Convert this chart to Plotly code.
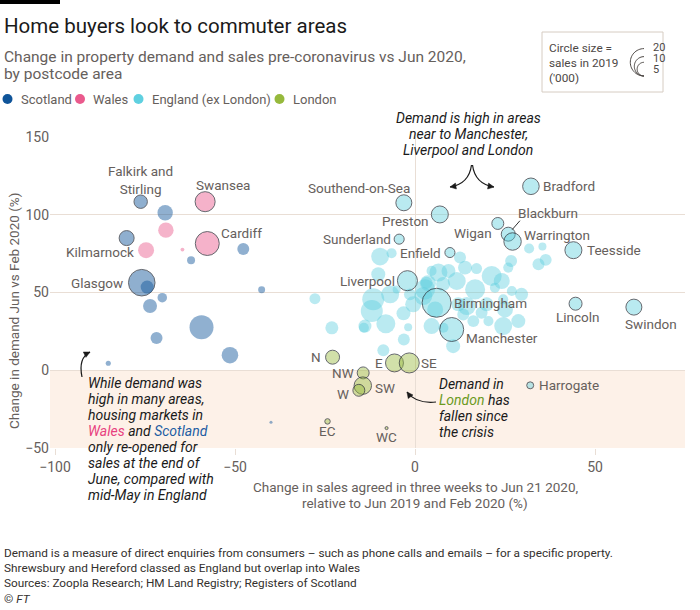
import math
import plotly.graph_objects as go

# ---------------- DATA ----------------
# x = change in sales agreed (%), y = change in demand (%), s = sales in 2019 ('000)
scot_names = ["Falkirk and Stirling", "", "Kilmarnock", "", "", "Glasgow", "", "", "", "",
              "", "", "", "", ""]
scot_x = [-76.2, -69.4, -80.1, -62.2, -47.7, -75.9, -74.4, -70.2, -73.6, -42.6,
          -59.3, -71.8, -51.4, -85.2, -40.0]
scot_y = [108.4, 101.3, 85.0, 70.8, 78.0, 56.3, 53.5, 46.7, 41.3, 51.8,
          27.7, 20.8, 9.7, 4.5, -33.4]
scot_s = [4.8, 6.3, 6.0, 1.7, 3.8, 18.8, 4.5, 2.4, 5.2, 1.3,
          15.3, 3.8, 7.3, 0.7, 0.25]

wales_names = ["Swansea", "", "", "", "Cardiff"]
wales_x = [-58.3, -69.2, -74.7, -64.6, -57.7]
wales_y = [108.4, 90.1, 77.2, 77.6, 81.5]
wales_s = [10.7, 6.3, 6.8, 0.4, 15.3]

eng_names = ["Southend-on-Sea", "Preston", "Sunderland", "Enfield", "Liverpool", "Birmingham",
             "Manchester", "Bradford", "Wigan", "Blackburn", "Warrington", "Teesside",
             "Lincoln", "Swindon", "Harrogate"]
eng_x = [-3.1, 6.9, -4.4, 9.7, -2.1, 6.0, 10.2, 32.2, 23.0, 25.9, 27.1, 44.0, 44.6, 60.8, 32.0]
eng_y = [107.7, 100.2, 84.3, 75.7, 57.6, 43.4, 26.2, 118.3, 94.4, 87.5, 82.8, 77.2, 42.8, 40.6, -9.7]
eng_s = [6.8, 7.7, 2.7, 2.7, 10.7, 22.4, 15.3, 7.3, 3.8, 5.2, 8.1, 7.7, 4.5, 6.8, 1.3]

eng_other_x = [-9.7, -6.5, -10.2, -27.8, -11.6, -6.9, -12.0, -8.1, -13.9, -23.1,
               -1.9, -3.1, -8.8, -3.2, -0.5, -1.4, 2.3, 3.2, -5.1, -14.2,
               10.6, 31.7, 35.4, 36.3, 34.3, 26.7, 25.9, 12.5, 13.9, 17.1,
               9.3, 4.6, 21.3, 24.1, 11.6, 16.7, 26.9, 29.6, 22.2, 14.4,
               19.9, 25.0, 28.7, 24.5, 16.2, 13.4, 4.6, 5.6, 2.8, 6.5,
               3.6, 7.8, 7.9, 12.0, 18.5, 24.5, 20.4]
eng_other_y = [73.1, 75.3, 61.7, 46.0, 45.6, 48.8, 38.1, 29.9, 28.4, 27.3,
               27.7, 19.8, 12.9, 36.6, 42.4, 48.8, 47.7, 56.3, 52.0, 27.3,
               15.5, 78.3, 79.6, 71.0, 68.2, 70.3, 66.0, 72.5, 66.0, 65.4,
               63.9, 63.9, 60.6, 57.4, 57.4, 52.0, 51.0, 48.8, 53.1, 41.3,
               42.4, 39.1, 31.6, 28.4, 31.6, 35.9, 28.4, 39.1, 52.0, 62.8,
               56.0, 55.5, 27.3, 42.4, 37.0, 45.6, 31.6]
eng_other_s = [8.4, 2.7, 5.2, 3.2, 12.9, 8.6, 12.9, 9.6, 4.5, 4.5,
               1.7, 3.8, 3.8, 5.2, 6.8, 3.8, 8.6, 3.8, 1.7, 2.7,
               5.2, 2.7, 1.7, 3.8, 3.8, 3.8, 2.7, 3.8, 5.2, 3.2,
               5.2, 2.7, 10.7, 6.8, 8.6, 10.7, 2.7, 4.5, 2.7, 8.6,
               5.2, 6.8, 5.2, 8.6, 3.8, 3.8, 6.8, 6.8, 10.7, 8.6,
               6.8, 5.2, 2.7, 5.2, 3.8, 2.7, 2.7]

ldn_names = ["N", "E", "SE", "NW", "SW", "W", "EC", "WC"]
ldn_x = [-22.9, -5.7, -1.6, -14.4, -14.5, -15.6, -24.3, -7.9]
ldn_y = [8.4, 4.7, 4.7, -1.7, -9.9, -12.9, -32.9, -37.2]
ldn_s = [5.2, 8.6, 10.7, 3.8, 8.1, 3.8, 0.8, 0.25]

legend_labels = ["Scotland", "Wales", "England (ex London)", "London"]
size_legend_values = [20, 10, 5]
x_ticks = [-100, -50, 0, 50]
y_ticks = [-50, 0, 50, 100, 150]

# ---------------- STYLE ----------------
W, H = 700, 610
ML, MR, MT, MB = 50, 15, 137, 162
PW, PH = W - ML - MR, H - MT - MB
FONT = "Roboto"
GREY = "#66605c"
DARK = "#1a1a1a"
GRID = "#e9ded5"
OUTLINE = "#262a33"
SIZE_MAX_PX = 27.4
SIZEREF = 2 * 20 / SIZE_MAX_PX ** 2

COL = {
    "Scotland": ("#0f5499", "rgba(15,84,153,0.66)"),
    "Wales": ("#ea5a8d", "rgba(234,90,141,0.66)"),
    "England (ex London)": ("#5fd0e0", "rgba(90,206,222,0.6)"),
    "London": ("#96b93c", "rgba(150,185,60,0.62)"),
}

# label placement (pixel offsets relative to the point, anchor)
LABEL_POS = {
    "Falkirk and Stirling": (0, 22, "center", "Falkirk and<br>Stirling"),
    "Swansea": (18, 17, "center", None),
    "Cardiff": (12, 11, "left", None),
    "Kilmarnock": (9, -14, "right", None),
    "Glasgow": (-17, 0, "right", None),
    "Southend-on-Sea": (8, 15, "right", None),
    "Preston": (-9, -7, "right", None),
    "Sunderland": (-6, 0, "right", None),
    "Enfield": (-7, 0, "right", None),
    "Liverpool": (-10, 0, "right", None),
    "Birmingham": (15, 0, "left", None),
    "Manchester": (12, -8, "left", None),
    "Bradford": (10, 0, "left", None),
    "Wigan": (-4, -10, "right", None),
    "Blackburn": (8, 21, "left", None),
    "Warrington": (9, 7, "left", None),
    "Teesside": (12, 0, "left", None),
    "Lincoln": (2, -13, "center", None),
    "Swindon": (17, -17, "center", None),
    "Harrogate": (7, 0, "left", None),
    "N": (-10, 0, "right", None),
    "E": (-9, 0, "right", None),
    "SE": (10, 0, "left", None),
    "NW": (-7, 0, "right", None),
    "SW": (10, -2, "left", None),
    "W": (-8, -4, "right", None),
    "EC": (0, -10, "center", None),
    "WC": (0, -9, "center", None),
}


def pp(x, y):
    """pixel (from top-left of page) -> paper coords"""
    return (x - ML) / PW, (H - MB - y) / PH


fig = go.Figure()


def add_group(names, xs, ys, ss, fill):
    fig.add_trace(go.Scatter(
        x=xs, y=ys, mode="markers", hoverinfo="skip", showlegend=False,
        marker=dict(size=ss, sizemode="area", sizeref=SIZEREF, sizemin=1.5, color=fill,
                    line=dict(color=OUTLINE, width=[1 if n else 0 for n in names]))))


add_group(scot_names, scot_x, scot_y, scot_s, COL["Scotland"][1])
add_group(wales_names, wales_x, wales_y, wales_s, COL["Wales"][1])
add_group([""] * len(eng_other_x), eng_other_x, eng_other_y, eng_other_s, COL["England (ex London)"][1])
add_group(eng_names, eng_x, eng_y, eng_s, COL["England (ex London)"][1])
add_group(ldn_names, ldn_x, ldn_y, ldn_s, COL["London"][1])

annotations = []
shapes = []

# point labels
for names, xs, ys in [(scot_names, scot_x, scot_y), (wales_names, wales_x, wales_y),
                      (eng_names, eng_x, eng_y), (ldn_names, ldn_x, ldn_y)]:
    for n, x, y in zip(names, xs, ys):
        if not n:
            continue
        dx, dy, anc, txt = LABEL_POS[n]
        annotations.append(dict(x=x, y=y, xref="x", yref="y", text=txt or n, showarrow=False,
                                xshift=dx, yshift=dy, xanchor=anc, yanchor="middle",
                                font=dict(family=FONT, size=13.5, color=GREY)))
        if n == "Blackburn":
            annotations.append(dict(x=x, y=y, xref="x", yref="y", text="", showarrow=True,
                                    ax=13, ay=-15, arrowhead=0, arrowwidth=1, arrowcolor="#333",
                                    standoff=6))

# shaded negative area
shapes.append(dict(type="rect", xref="paper", x0=0, x1=1, yref="y", y0=-50, y1=0,
                   fillcolor="#fdf1e8", line=dict(width=0), layer="below"))

# top black bar
b0 = pp(0, 0); b1 = pp(60, 4)
shapes.append(dict(type="rect", xref="paper", yref="paper", x0=b0[0], y0=b0[1], x1=b1[0], y1=b1[1],
                   fillcolor="black", line=dict(width=0)))


def text_px(x, y, text, size, color, anchor="left", family=FONT, angle=0):
    px_, py_ = pp(x, y)
    annotations.append(dict(x=px_, y=py_, xref="paper", yref="paper", text=text, showarrow=False,
                            xanchor=anchor, yanchor="middle", textangle=angle,
                            font=dict(family=family, size=size, color=color)))


# title and subtitle
text_px(2, 26, "Home buyers look to commuter areas", 20.5, DARK)
text_px(2, 57, "Change in property demand and sales pre-coronavirus vs Jun 2020,", 15.5, GREY)
text_px(2, 74, "by postcode area", 15.5, GREY)

# colour legend
leg_dot_x = [7.5, 80, 138.5, 279.5]
for lab, dxp in zip(legend_labels, leg_dot_x):
    c0 = pp(dxp - 5, 94); c1 = pp(dxp + 5, 104)
    shapes.append(dict(type="circle", xref="paper", yref="paper", x0=c0[0], y0=c1[1], x1=c1[0], y1=c0[1],
                       fillcolor=COL[lab][0], line=dict(width=0)))
    text_px(dxp + 11, 99, lab, 13, GREY)

# size legend box
r0 = pp(542, 32); r1 = pp(663, 92)
shapes.append(dict(type="rect", xref="paper", yref="paper", x0=r0[0], y0=r1[1], x1=r1[0], y1=r0[1],
                   fillcolor="white", line=dict(color="#d6ccc2", width=1)))
for i, t in enumerate(["Circle size =", "sales in 2019", "('000)"]):
    text_px(547, 48 + i * 15, t, 11.8, "#4d4845")
arc_cx, arc_bottom = 644, 76
label_ys = [47.5, 58.5, 69.5]
for v, ly in zip(size_legend_values, label_ys):
    r = math.sqrt(v / (2 * SIZEREF))
    cy = arc_bottom - r
    pts = []
    for k in range(0, 31):
        a = math.pi / 2 + math.pi * k / 30
        pts.append(pp(arc_cx + r * math.cos(a), cy - r * math.sin(a)))
    path = "M" + " L".join(f"{p[0]:.5f},{p[1]:.5f}" for p in pts)
    shapes.append(dict(type="path", xref="paper", yref="paper", path=path,
                       line=dict(color="#4d4845", width=1)))
    text_px(651, ly, str(v), 11, "#4d4845")


# curved arrows
def curve_arrow(p0, c, p1):
    a = pp(*p0); b = pp(*c); e = pp(*p1)
    shapes.append(dict(type="path", xref="paper", yref="paper",
                       path=f"M{a[0]:.5f},{a[1]:.5f} Q{b[0]:.5f},{b[1]:.5f} {e[0]:.5f},{e[1]:.5f}",
                       line=dict(color=DARK, width=1.2)))
    ux, uy = p1[0] - c[0], p1[1] - c[1]
    ln = math.hypot(ux, uy)
    ux, uy = ux / ln, uy / ln
    nx, ny = -uy, ux
    bx, by = p1[0] - 6 * ux, p1[1] - 6 * uy
    q1 = pp(bx + 3 * nx, by + 3 * ny); q2 = pp(bx - 3 * nx, by - 3 * ny)
    shapes.append(dict(type="path", xref="paper", yref="paper",
                       path=f"M{e[0]:.5f},{e[1]:.5f} L{q1[0]:.5f},{q1[1]:.5f} L{q2[0]:.5f},{q2[1]:.5f} Z",
                       fillcolor=DARK, line=dict(color=DARK, width=0.5)))


curve_arrow((471.5, 165), (469, 184), (450, 187))
curve_arrow((472.5, 165), (475, 184), (494, 187))
curve_arrow((82, 377), (78, 358), (90, 352))
curve_arrow((436, 402), (416, 404), (407, 392))

# annotation texts
for i, t in enumerate(["Demand is high in areas", "near to Manchester,", "Liverpool and London"]):
    text_px(468, 118 + i * 16, f"<i>{t}</i>", 14, DARK, anchor="center")

left_lines = ["While demand was", "high in many areas,", "housing markets in",
              "<span style='color:#e8417f'>Wales</span> and <span style='color:#1d5da3'>Scotland</span>",
              "only re-opened for", "sales at the end of", "June, compared with", "mid-May in England"]
for i, t in enumerate(left_lines):
    text_px(86, 383 + i * 16, f"<i>{t}</i>", 14, DARK)

right_lines = ["Demand in", "<span style='color:#6b9a1e'>London</span> has", "fallen since", "the crisis"]
for i, t in enumerate(right_lines):
    text_px(437, 384 + i * 16, f"<i>{t}</i>", 14, DARK)

# axis titles
text_px(415, 487, "Change in sales agreed in three weeks to Jun 21 2020,", 13.5, GREY, anchor="center")
text_px(415, 503, "relative to Jun 2019 and Feb 2020 (%)", 13.5, GREY, anchor="center")
text_px(14, 311, "Change in demand Jun vs Feb 2020 (%)", 13.5, GREY, anchor="center", angle=-90)

# footer
footer = ["Demand is a measure of direct enquiries from consumers – such as phone calls and emails – for a specific property.",
          "Shrewsbury and Hereford classed as England but overlap into Wales",
          "Sources: Zoopla Research; HM Land Registry; Registers of Scotland",
          "© <i>FT</i>"]
for i, t in enumerate(footer):
    text_px(2, 553 + i * 15.2, t, 11.8, "#33302e")

fig.update_layout(
    width=W, height=H, margin=dict(l=ML, r=MR, t=MT, b=MB, autoexpand=False),
    paper_bgcolor="white", plot_bgcolor="rgba(0,0,0,0)", showlegend=False,
    font=dict(family=FONT, color=GREY), annotations=annotations, shapes=shapes,
    xaxis=dict(range=[-101.39, 75], tickvals=x_ticks, showgrid=False, zeroline=True,
               zerolinecolor=GRID, zerolinewidth=1, ticks="outside", ticklen=6, tickcolor=GRID,
               tickfont=dict(size=14, color=GREY), showline=False, fixedrange=True),
    yaxis=dict(range=[-50, 150], tickvals=y_ticks, showgrid=True, gridcolor=GRID, gridwidth=1,
               zeroline=False, ticks="", tickfont=dict(size=14, color=GREY), showline=False,
               fixedrange=True),
)

fig.write_html("out.html", config={"displayModeBar": False},
               post_script="document.body.style.margin='0';document.body.style.padding='0';")
